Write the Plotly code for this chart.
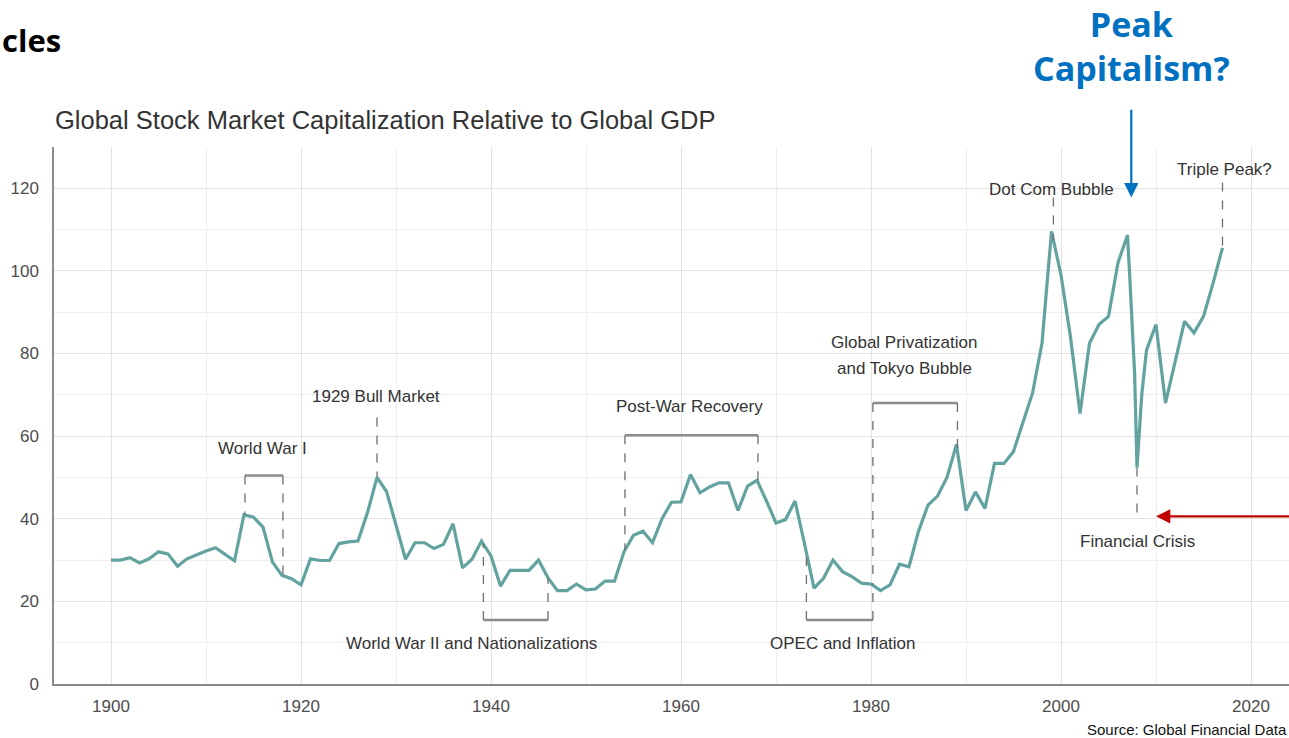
import numpy as np
import plotly.graph_objects as go

# ---- data ----
years = [1900, 1901, 1902, 1903, 1904, 1905, 1906, 1907, 1908, 1909,
         1910, 1911, 1912, 1913, 1914, 1915, 1916, 1917, 1918, 1919,
         1920, 1921, 1922, 1923, 1924, 1925, 1926, 1927, 1928, 1929,
         1930, 1931, 1932, 1933, 1934, 1935, 1936, 1937, 1938, 1939,
         1940, 1941, 1942, 1943, 1944, 1945, 1946, 1947, 1948, 1949,
         1950, 1951, 1952, 1953, 1954, 1955, 1956, 1957, 1958, 1959,
         1960, 1961, 1962, 1963, 1964, 1965, 1966, 1967, 1968, 1969,
         1970, 1971, 1972, 1973, 1974, 1975, 1976, 1977, 1978, 1979,
         1980, 1981, 1982, 1983, 1984, 1985, 1986, 1987, 1988, 1989,
         1990, 1991, 1992, 1993, 1994, 1995, 1996, 1997, 1998, 1999,
         2000, 2001, 2002, 2003, 2004, 2005, 2006, 2007, 2007.25, 2007.5,
         2007.75, 2008, 2008.5, 2009, 2010, 2011, 2012, 2013, 2014, 2015,
         2016, 2017]
market_cap_pct_gdp = [30.0, 30.0, 30.6, 29.3, 30.3, 32.0, 31.5, 28.5, 30.3, 31.3,
                      32.2, 33.0, 31.3, 29.8, 41.0, 40.4, 38.0, 29.5, 26.3, 25.5,
                      24.0, 30.3, 29.9, 29.9, 34.0, 34.4, 34.6, 41.5, 50.0, 46.6,
                      38.5, 30.2, 34.2, 34.2, 32.8, 33.8, 38.8, 28.1, 30.2, 34.6,
                      31.0, 23.7, 27.5, 27.5, 27.5, 30.0, 25.7, 22.6, 22.6, 24.2,
                      22.8, 23.0, 24.9, 24.9, 32.0, 36.0, 37.0, 34.2, 40.0, 44.0,
                      44.1, 50.7, 46.3, 47.7, 48.7, 48.7, 42.0, 47.9, 49.3, 44.3,
                      39.0, 39.8, 44.3, 34.0, 23.2, 25.6, 30.0, 27.2, 26.0, 24.4,
                      24.2, 22.6, 24.0, 29.0, 28.4, 37.0, 43.3, 45.5, 50.0, 58.0,
                      42.0, 46.5, 42.5, 53.4, 53.4, 56.3, 63.2, 70.4, 82.5, 109.6,
                      99.0, 84.0, 65.5, 82.5, 87.0, 89.0, 102.0, 108.7, 98.0, 87.0,
                      75.0, 52.4, 70.0, 80.8, 87.0, 68.0, 77.8, 87.8, 85.0, 89.0,
                      97.0, 105.6]

x_ticks = [1900, 1920, 1940, 1960, 1980, 2000, 2020]
y_ticks = [0, 20, 40, 60, 80, 100, 120]

# bracketed periods: (label, start, end)
period_labels = ["World War I", "World War II and Nationalizations", "Post-War Recovery",
                 "OPEC and Inflation", "Global Privatization and Tokyo Bubble"]
period_start = [1914.1, 1939.2, 1954.1, 1973.2, 1980.2]
period_end = [1918.1, 1946.0, 1968.1, 1980.2, 1989.1]

# single-year events
event_labels = ["1929 Bull Market", "Dot Com Bubble", "Triple Peak?", "Financial Crisis"]
event_years = [1928.0, 1999.2, 2017.0, 2008.0]

# ---- styling / layout ----
W, H = 1289, 738
ML, MR, MT, MB = 54, 0, 147, 54
TEXT = "#333333"
DASH = "#6e6e6e"
BRACKET = "#8c8c8c"
FONT = "Liberation Sans, Arial, sans-serif"

fig = go.Figure()
fig.add_trace(go.Scatter(x=years, y=market_cap_pct_gdp, mode="lines",
                         line=dict(color="#62A39F", width=3.2), hoverinfo="x+y",
                         showlegend=False))

def val(yr):
    return float(np.interp(yr, years, market_cap_pct_gdp))

shapes = []
annotations = []

def vdash(x, y0, y1):
    shapes.append(dict(type="line", xref="x", yref="y", x0=x, x1=x, y0=y0, y1=y1,
                       line=dict(color=DASH, width=1.3, dash="dash")))

def hbar(x0, x1, y):
    shapes.append(dict(type="line", xref="x", yref="y", x0=x0, x1=x1, y0=y, y1=y,
                       line=dict(color=BRACKET, width=2.5)))

def label(text, x, y, size=17, color=TEXT, **kw):
    annotations.append(dict(text=text, x=x, y=y, xref="x", yref="y", showarrow=False,
                            xanchor="center", yanchor="middle",
                            font=dict(family=FONT, size=size, color=color), **kw))

# brackets
bracket_levels = [50.5, 15.5, 60.2, 15.5, 68.0]
for s, e, lvl in zip(period_start, period_end, bracket_levels):
    hbar(s, e, lvl)
    vdash(s, lvl, val(s))
    vdash(e, lvl, val(e))

label(period_labels[0], 1915.9, 57.1)
label(period_labels[1], 1937.9, 9.9)
label(period_labels[2], 1960.9, 67.3)
label(period_labels[3], 1977.05, 9.9)
label("Global Privatization", 1983.5, 82.7)
label("and Tokyo Bubble", 1983.5, 76.4)

# single events
vdash(event_years[0], 64.5, val(event_years[0]))
label(event_labels[0], 1927.9, 69.7)
vdash(event_years[1], 117.8, val(event_years[1]))
label(event_labels[1], 1999.0, 119.8)
vdash(event_years[2], 121.4, val(event_years[2]))
label(event_labels[2], 2017.2, 124.6)
vdash(event_years[3], val(event_years[3]), 40.4)
label(event_labels[3], 2008.0, 34.6)

pw, ph = W - ML - MR, H - MT - MB

def px_x(px):
    return (px - ML) / pw

def px_y(py):
    return (H - MB - py) / ph

# Peak Capitalism? with arrows
annotations.append(dict(text="<b>Peak<br>Capitalism?</b>", x=px_x(1131), y=px_y(46),
                        xref="paper", yref="paper",
                        showarrow=False, xanchor="center", yanchor="middle", align="center",
                        font=dict(family="Open Sans, Noto Sans, sans-serif", size=34, color="#0070C0")))
annotations.append(dict(text="", x=2007.4, y=117.8, xref="x", yref="y", axref="x", ayref="y",
                        ax=2007.4, ay=139.4, showarrow=True, arrowhead=2, arrowsize=1.3,
                        arrowwidth=2.2, arrowcolor="#0070C0"))
annotations.append(dict(text="", x=2010.0, y=40.6, xref="x", yref="y", axref="x", ayref="y",
                        ax=2025.5, ay=40.6, showarrow=True, arrowhead=2, arrowsize=1.3,
                        arrowwidth=2.2, arrowcolor="#C00000"))

# titles
annotations.append(dict(text="<b>cles</b>", xref="paper", yref="paper",
                        x=px_x(0), y=px_y(40), xanchor="left", yanchor="middle",
                        showarrow=False,
                        font=dict(family="Open Sans, Noto Sans, sans-serif", size=31, color="#000000")))
annotations.append(dict(text="Global Stock Market Capitalization Relative to Global GDP",
                        xref="paper", yref="paper", x=px_x(53), y=px_y(120),
                        xanchor="left", yanchor="middle", showarrow=False,
                        font=dict(family=FONT, size=25.5, color=TEXT)))
annotations.append(dict(text="Source: Global Financial Data", xref="paper", yref="paper",
                        x=1.0, y=px_y(729), xanchor="right", yanchor="middle",
                        showarrow=False, font=dict(family=FONT, size=15, color="#111111")))

fig.update_layout(
    width=W, height=H, margin=dict(l=ML, r=MR, t=MT, b=MB),
    paper_bgcolor="white", plot_bgcolor="white",
    shapes=shapes, annotations=annotations, showlegend=False,
    xaxis=dict(range=[1894, 2024], tickvals=x_ticks, showgrid=True, gridcolor="#e3e3e3",
               gridwidth=1.2, minor=dict(dtick=10, tick0=1900, showgrid=True, gridcolor="#eeeeee",
                                         gridwidth=1),
               showline=True, linecolor="#8a8a8a", linewidth=1.5, zeroline=False,
               ticks="", ticklabelstandoff=6,
               tickfont=dict(family=FONT, size=17, color="#4d4d4d")),
    yaxis=dict(range=[0, 130], tickvals=y_ticks, showgrid=True, gridcolor="#e3e3e3",
               gridwidth=1.2, minor=dict(dtick=10, tick0=0, showgrid=True, gridcolor="#eeeeee",
                                         gridwidth=1),
               showline=True, linecolor="#8a8a8a", linewidth=1.5, zeroline=False,
               ticks="", ticklabelstandoff=10,
               tickfont=dict(family=FONT, size=17, color="#4d4d4d")),
)

fig.write_html("out.html")
